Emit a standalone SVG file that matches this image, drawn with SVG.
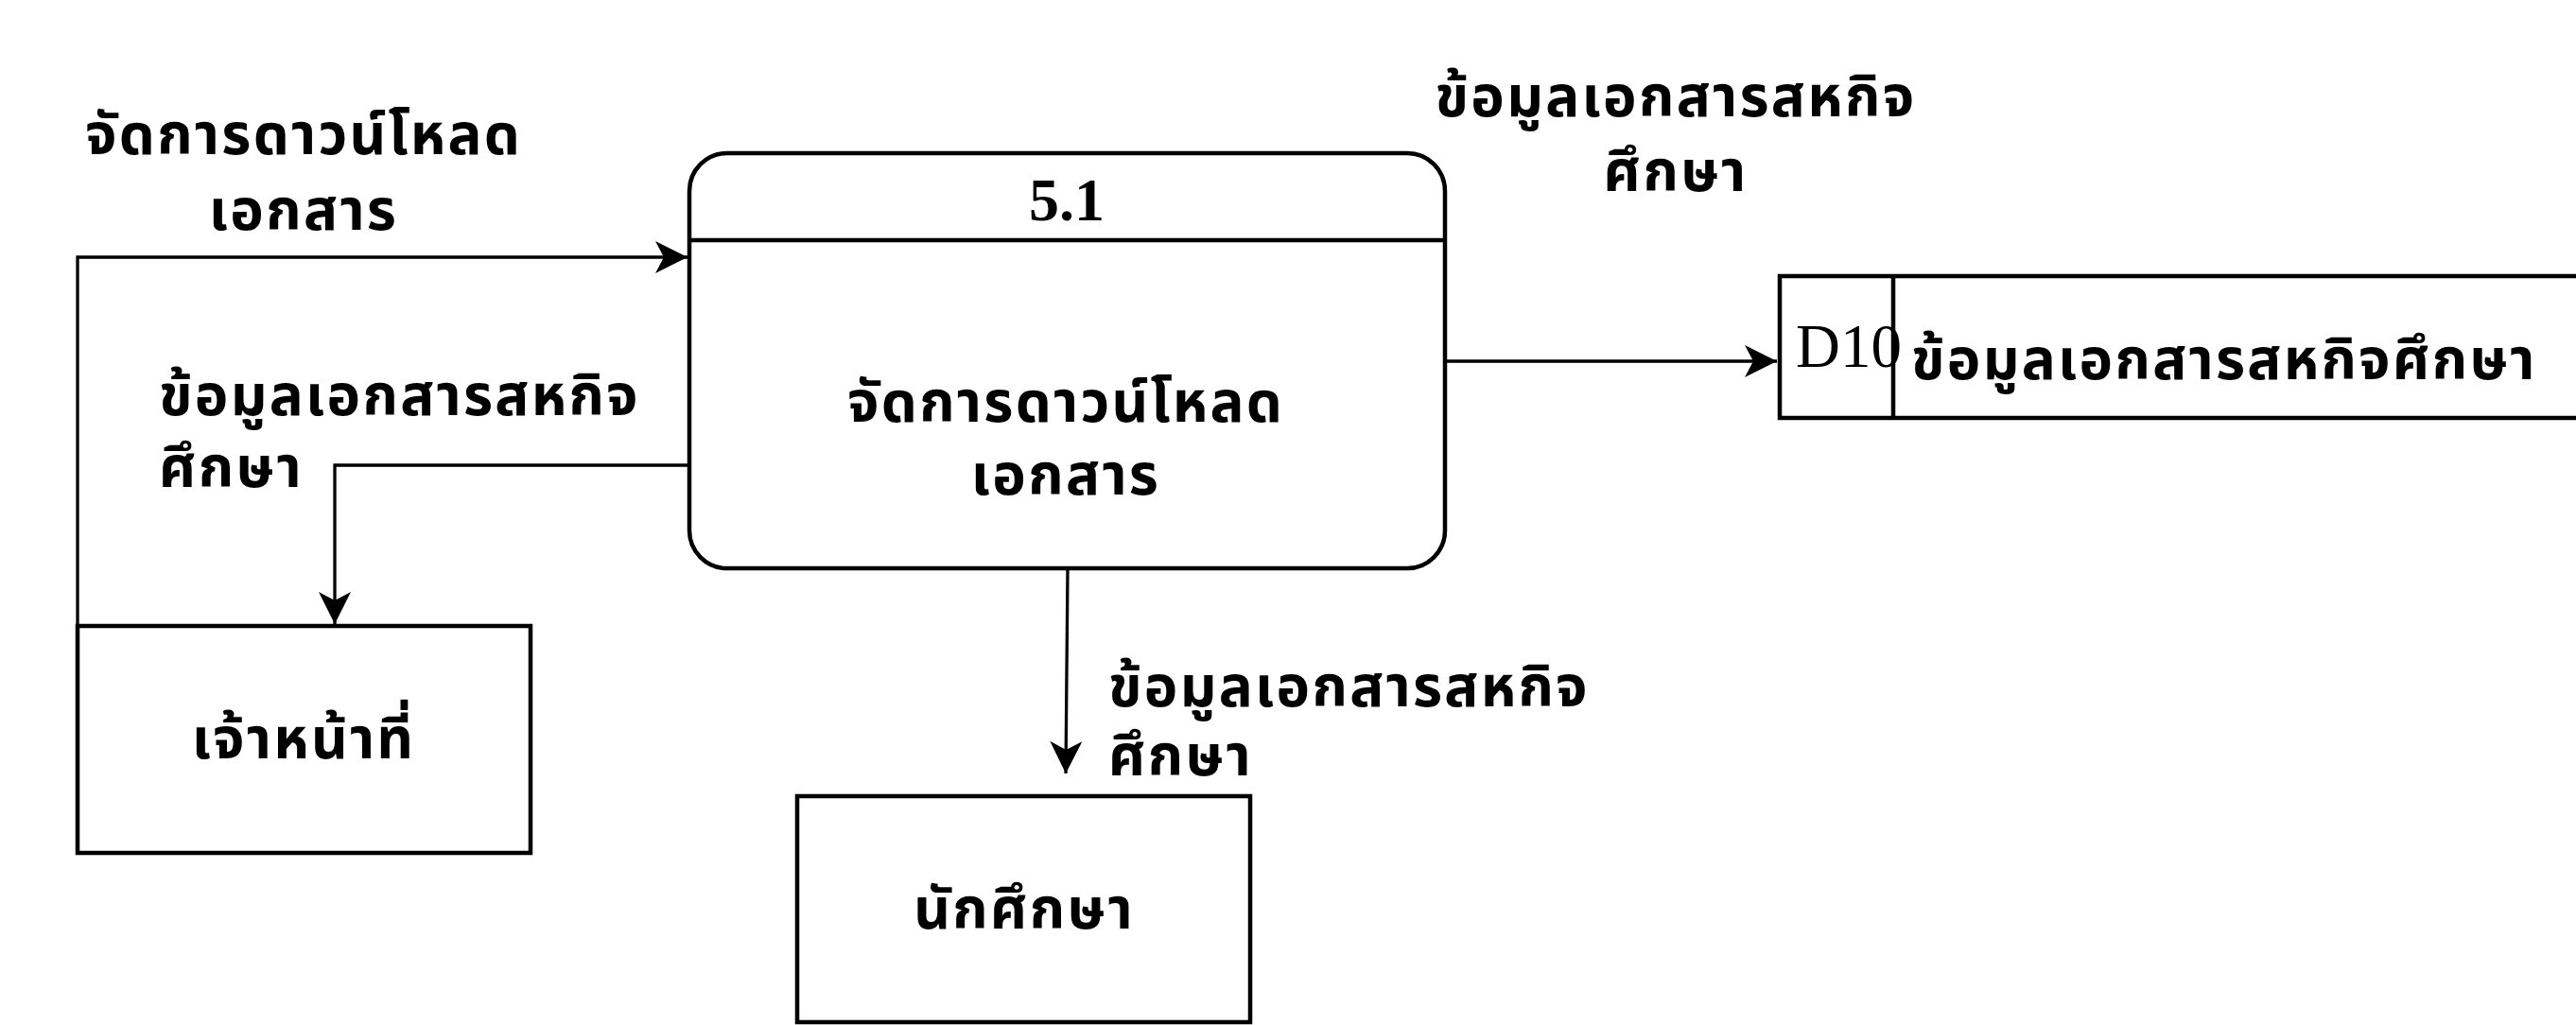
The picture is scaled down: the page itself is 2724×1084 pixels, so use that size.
<svg xmlns="http://www.w3.org/2000/svg" width="2724" height="1084" viewBox="0 0 2724 1084">
<style>
.box{fill:#fff;stroke:#000;stroke-width:4.5}
.ln{fill:none;stroke:#000;stroke-width:3.3}
.th{font-family:"Noto Sans Thai","Noto Sans","DejaVu Sans",sans-serif;font-size:60px;font-weight:bold;letter-spacing:2.3px;fill:#000}
.c{text-anchor:middle}
.sf{font-family:"Liberation Serif","Times New Roman",serif;fill:#000}
</style>
<defs>
<marker id="arr" markerUnits="userSpaceOnUse" viewBox="-36 -18 38 36" refX="0" refY="0" markerWidth="38" markerHeight="36" orient="auto">
<path d="M0,0 L-34,-17 L-25,0 L-34,17 Z" fill="#000"/>
</marker>
</defs>
<rect width="2724" height="1084" fill="#fff"/>
<g id="connectors">
<path class="ln" d="M82,662 L82,272 L727,272" marker-end="url(#arr)"/>
<path class="ln" d="M729,492 L354,492 L354,660" marker-end="url(#arr)"/>
<path class="ln" d="M1528,382 L1879,382" marker-end="url(#arr)"/>
<path class="ln" d="M1129,601 L1127,818" marker-end="url(#arr)"/>
<text class="th c" x="321" y="163">จัดการดาวน์โหลด</text>
<text class="th c" x="321" y="243">เอกสาร</text>
<text class="th" x="168" y="439">ข้อมูลเอกสารสหกิจ</text>
<text class="th" x="168" y="515">ศึกษา</text>
<text class="th c" x="1772" y="123">ข้อมูลเอกสารสหกิจ</text>
<text class="th c" x="1772" y="202">ศึกษา</text>
<text class="th" x="1172" y="747">ข้อมูลเอกสารสหกิจ</text>
<text class="th" x="1172" y="820">ศึกษา</text>
</g>
<g id="process-5-1">
<rect class="box" x="729" y="162" width="799" height="439" rx="40" ry="40"/>
<line class="box" x1="729" y1="254" x2="1528" y2="254"/>
<text class="sf c" x="1128" y="233" font-size="64" font-weight="bold">5.1</text>
<text class="th c" x="1127" y="446">จัดการดาวน์โหลด</text>
<text class="th c" x="1127" y="523">เอกสาร</text>
</g>
<g id="officer">
<rect class="box" x="82" y="662" width="479" height="240"/>
<text class="th c" x="321" y="802">เจ้าหน้าที่</text>
</g>
<g id="student">
<rect class="box" x="843" y="842" width="479" height="239"/>
<text class="th c" x="1083" y="982">นักศึกษา</text>
</g>
<g id="datastore-D10">
<path class="box" d="M2730,292 L1882,292 L1882,442 L2730,442"/>
<line class="box" x1="2002" y1="292" x2="2002" y2="442"/>
<text class="sf" x="1899" y="388" font-size="65">D10</text>
<text class="th" x="2021" y="401">ข้อมูลเอกสารสหกิจศึกษา</text>
</g>
</svg>
